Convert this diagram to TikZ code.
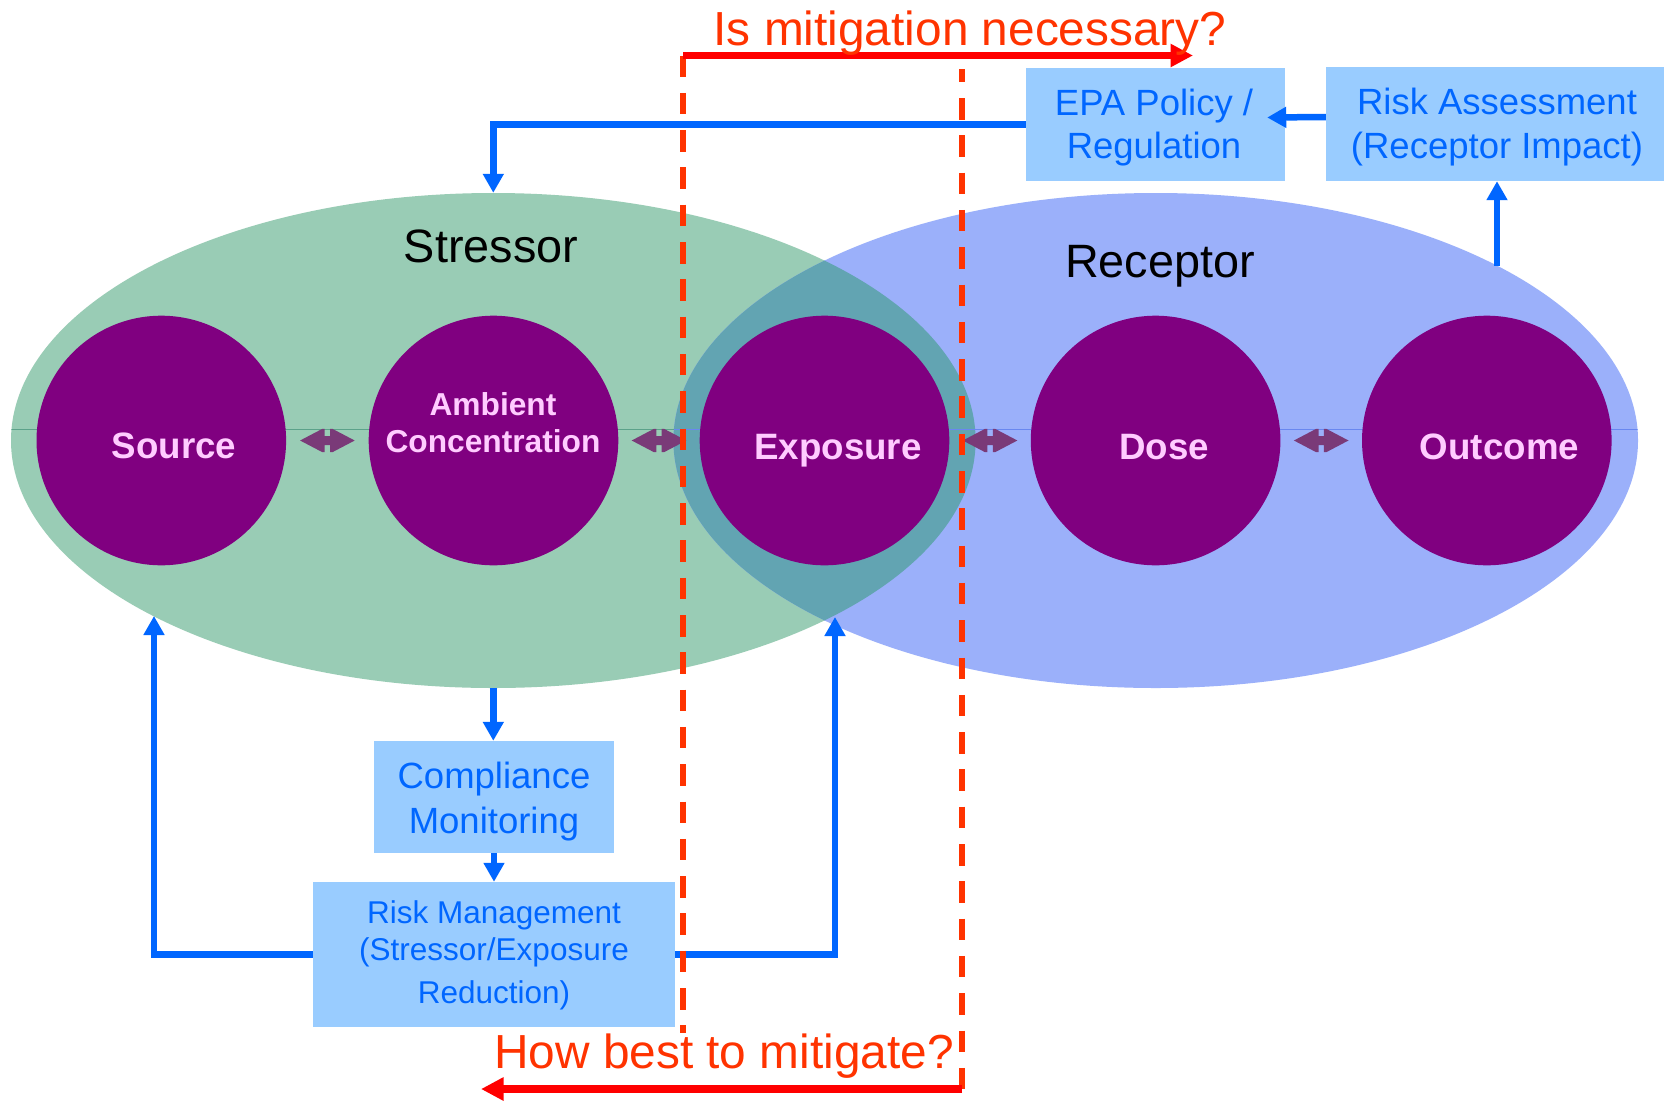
\documentclass[tikz,border=0pt]{standalone}
\usepackage{fontspec}
\setmainfont{Liberation Sans}
\usetikzlibrary{arrows.meta,shapes.geometric,calc}

\definecolor{stressfill}{RGB}{153,204,181}
\definecolor{recfill}{RGB}{155,176,250}
\definecolor{lensfill}{RGB}{98,164,178}
\definecolor{stageclr}{RGB}{128,0,128}
\definecolor{stagetxt}{RGB}{255,204,255}
\definecolor{linkclr}{RGB}{122,58,120}
\definecolor{boxfill}{RGB}{153,204,255}
\definecolor{flowblue}{RGB}{0,102,255}
\definecolor{qred}{RGB}{255,0,0}
\definecolor{qorange}{RGB}{255,51,0}
\definecolor{axisgreen}{RGB}{92,162,138}
\definecolor{axisblue}{RGB}{105,135,240}

\newcommand{\ptsize}[1]{\fontsize{#1pt}{#1pt}\selectfont}

\begin{document}
\begin{tikzpicture}[x=1pt,y=-1pt,
  zone/.style={ellipse, inner sep=0pt, minimum width=964.6pt, minimum height=495pt},
  stage/.style={circle, fill=stageclr, inner sep=0pt, minimum size=249.6pt},
  stagelabel/.style={anchor=base, inner sep=0pt, text=stagetxt, font=\bfseries\ptsize{36.7}},
  smallstagelabel/.style={stagelabel, font=\bfseries\ptsize{31.7}},
  box/.style={rectangle, fill=boxfill, inner sep=0pt},
  boxtext/.style={anchor=base, inner sep=0pt, text=flowblue, font=\ptsize{36.5}},
  smallboxtext/.style={boxtext, font=\ptsize{31.5}},
  zonetitle/.style={anchor=base, inner sep=0pt, text=black, font=\ptsize{46.8}},
  question/.style={anchor=base, inner sep=0pt, text=qorange, font=\ptsize{47.8}},
  flow/.style={draw=flowblue, line width=6.5pt, -{Triangle[length=19pt,width=20pt]}},
  qarrow/.style={draw=qred, line width=7.8pt, -{Triangle[length=22.5pt,width=22pt]}},
  qdash/.style={draw=qorange, line width=5.7pt, dash pattern=on 21.5pt off 15.8pt},
  linkarrow/.pic={
    \fill[linkclr] (-27.3,0) -- (-5,-11.7) -- (-2.7,-11.7) -- (-2.7,-4.5) -- (2.7,-4.5)
      -- (2.7,-11.7) -- (5,-11.7) -- (27.3,0) -- (5,11.7) -- (2.7,11.7) -- (2.7,4.5)
      -- (-2.7,4.5) -- (-2.7,11.7) -- (-5,11.7) -- cycle;
  }
]
% canvas
\fill[white] (0,0) rectangle (1664,1101);
\useasboundingbox (0,0) rectangle (1664,1101);

% stressor and receptor zones with their overlap
\node[zone, fill=stressfill] (stressor) at (493.3,440.5) {};
\node[zone, fill=recfill] (receptor) at (1155.7,440.5) {};
\begin{scope}
  \clip (stressor.center) ellipse [x radius=482.3pt, y radius=247.5pt];
  \fill[lensfill] (receptor.center) ellipse [x radius=482.3pt, y radius=247.5pt];
\end{scope}

% thin axis through both zones
\begin{scope}
  \clip (stressor.center) ellipse [x radius=482.3pt, y radius=247.5pt];
  \draw[axisgreen, line width=0.9pt] (0,429) -- (1664,429);
\end{scope}
\begin{scope}
  \clip (receptor.center) ellipse [x radius=482.3pt, y radius=247.5pt];
  \draw[axisblue, line width=0.9pt] (0,429) -- (1664,429);
\end{scope}

\node[zonetitle] (stressortitle) at (491,262) {Stressor};
\node[zonetitle] (receptortitle) at (1160,277) {Receptor};

% chain of stages
\node[stage] (source) at (161.3,440.5) {};
\node[stage] (ambient) at (493.5,440.5) {};
\node[stage] (exposure) at (824.5,440.5) {};
\node[stage] (dose) at (1155.6,440.5) {};
\node[stage] (outcome) at (1486.8,440.5) {};

\node[stagelabel] (sourcetxt) at (174,458.5) {Source};
\node[smallstagelabel] (ambienttxt) at (493,415) {Ambient};
\node[smallstagelabel] (concentrationtxt) at (493,452.7) {Concentration};
\node[stagelabel] (exposuretxt) at (838,459) {Exposure};
\node[stagelabel] (dosetxt) at (1164,459) {Dose};
\node[stagelabel] (outcometxt) at (1499.5,459) {Outcome};

% two-way links between neighbouring stages
\pic at ($(source)!0.5!(ambient)$) {linkarrow};
\pic at ($(ambient)!0.5!(exposure)$) {linkarrow};
\pic at ($(exposure)!0.5!(dose)$) {linkarrow};
\pic at ($(dose)!0.5!(outcome)$) {linkarrow};

% process boxes
\node[box, minimum width=259pt, minimum height=113pt] (epa) at (1155.5,124.5) {};
\node[boxtext] (epa1) at (1154,115) {EPA Policy /};
\node[boxtext] (epa2) at (1154,158) {Regulation};

\node[box, minimum width=338pt, minimum height=114pt] (ra) at (1495,124) {};
\node[boxtext] (ra1) at (1497,114) {Risk Assessment};
\node[boxtext] (ra2) at (1497,158) {(Receptor Impact)};

\node[box, minimum width=240pt, minimum height=112pt] (comp) at (494,797) {};
\node[boxtext] (comp1) at (494,788) {Compliance};
\node[boxtext] (comp2) at (494,833) {Monitoring};

\node[box, minimum width=361.6pt, minimum height=145pt] (rm) at (493.8,954.5) {};
\node[smallboxtext] (rm1) at (494,923) {Risk Management};
\node[smallboxtext] (rm2) at (494,960) {(Stressor/Exposure};
\node[smallboxtext] (rm3) at (494,1003) {Reduction)};

% feedback connectors
\coordinate (recout) at (1497,265.5);
\coordinate (srcin) at (154,616);
\coordinate (lensbottom) at (835,617);

\draw[flow] (epa.west) -| (stressor.north);
\draw[flow] ([yshift=7pt]ra.west) -- ([xshift=-18pt,yshift=7pt]epa.east);
\draw[flow] (recout) -- (recout |- ra.south);
\draw[flow] (stressor.south) -- (stressor.south |- comp.north);
\draw[flow] (comp.south) -- (comp.south |- rm.north);
\draw[flow] (rm.west) -| (srcin);
\draw[flow] (rm.east) -| (lensbottom);

% mitigation questions
\coordinate (mitL) at (683,55.5);
\coordinate (mitR) at (1193,55.5);
\coordinate (mitLend) at (683,1033);
\coordinate (howtop) at (962,69);
\coordinate (howR) at (962,1089);
\coordinate (howL) at (481,1089);

\draw[qdash] (mitL) -- (mitLend);
\draw[qdash, dash phase=8.3pt] (howtop) -- (howR);
\draw[qarrow] (mitL) -- (mitR);
\draw[qarrow] (howR) -- (howL);

\node[question] (mitq) at (970,45) {Is mitigation necessary?};
\node[question] (howq) at (724,1068) {How best to mitigate?};
\end{tikzpicture}
\end{document}
